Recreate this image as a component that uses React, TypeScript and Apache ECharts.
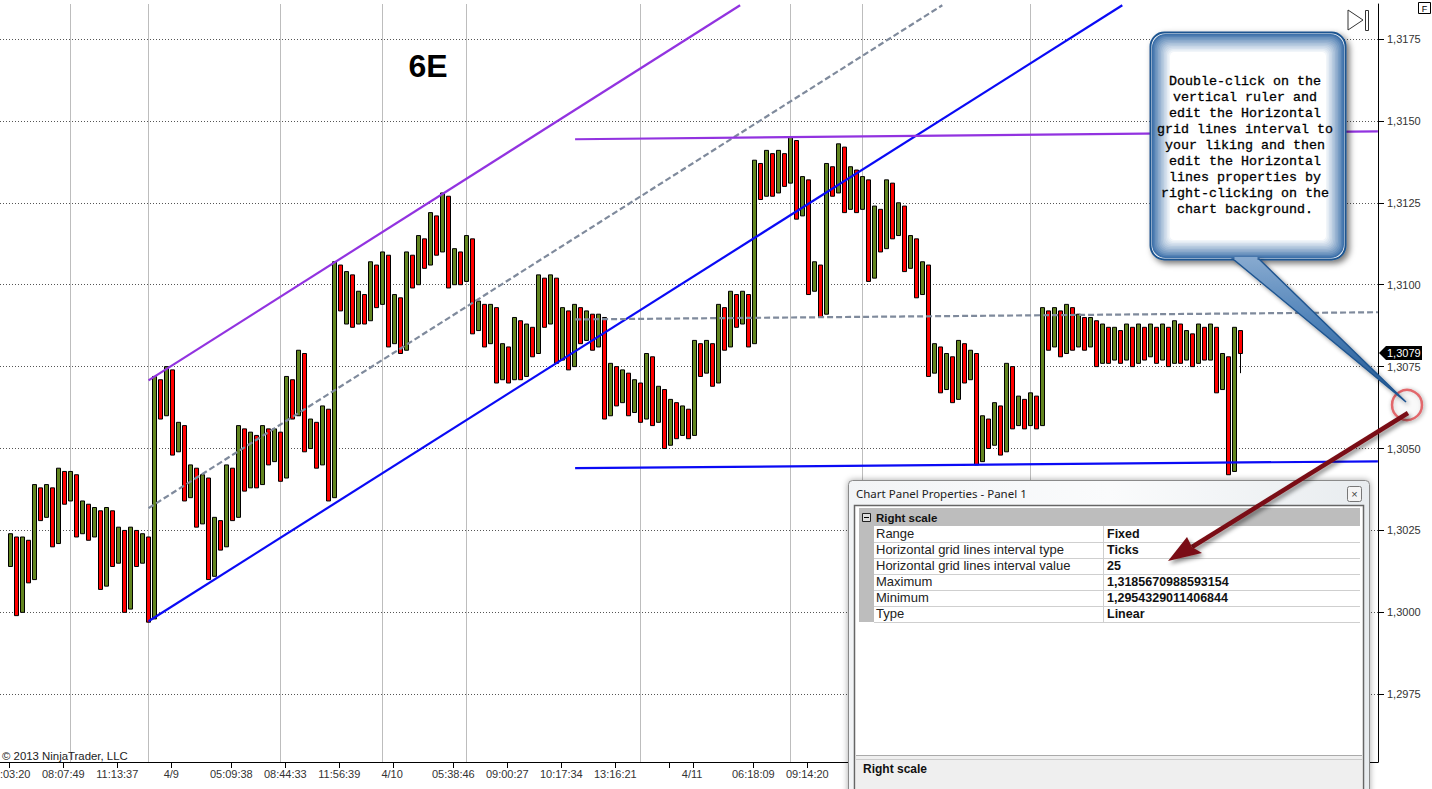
import React, { useEffect, useRef } from "react";
import * as echarts from "echarts";

const barHigh = [
  1.3024,1.3023,1.3023,1.3022,1.3039,1.3038,1.3039,1.3038,1.3044,1.3043,
  1.3043,1.3042,1.3034,1.3033,1.3032,1.3031,1.3032,1.3031,1.3026,1.3025,
  1.3026,1.3025,1.3024,1.3023,1.3072,1.3071,1.3075,1.3074,1.3058,1.3057,
  1.3045,1.3044,1.3042,1.3041,1.3029,1.3028,1.3045,1.3044,1.3057,1.3056,
  1.3055,1.3054,1.3057,1.3056,1.3056,1.3055,1.3072,1.3071,1.3080,1.3079,
  1.3059,1.3058,1.3063,1.3062,1.3107,1.3106,1.3104,1.3103,1.3098,1.3097,
  1.3107,1.3106,1.3110,1.3109,1.3097,1.3096,1.3110,1.3109,1.3115,1.3114,
  1.3122,1.3121,1.3128,1.3127,1.3111,1.3110,1.3115,1.3114,1.3095,1.3094,
  1.3094,1.3093,1.3082,1.3081,1.3090,1.3089,1.3088,1.3087,1.3103,1.3102,
  1.3103,1.3102,1.3093,1.3092,1.3094,1.3093,1.3092,1.3091,1.3091,1.3090,
  1.3076,1.3075,1.3074,1.3073,1.3071,1.3070,1.3079,1.3078,1.3069,1.3068,
  1.3065,1.3064,1.3063,1.3062,1.3083,1.3082,1.3083,1.3082,1.3094,1.3093,
  1.3098,1.3097,1.3098,1.3097,1.3138,1.3137,1.3141,1.3140,1.3141,1.3140,
  1.3145,1.3144,1.3133,1.3132,1.3107,1.3106,1.3137,1.3136,1.3143,1.3142,
  1.3136,1.3135,1.3133,1.3132,1.3124,1.3123,1.3132,1.3131,1.3125,1.3124,
  1.3115,1.3114,1.3107,1.3106,1.3082,1.3081,1.3079,1.3078,1.3083,1.3082,
  1.3080,1.3079,1.3060,1.3059,1.3064,1.3063,1.3076,1.3075,1.3066,1.3065,
  1.3067,1.3066,1.3093,1.3092,1.3093,1.3092,1.3094,1.3093,1.3091,1.3090,
  1.3090,1.3089,1.3088,1.3087,1.3087,1.3086,1.3088,1.3087,1.3088,1.3087,
  1.3088,1.3087,1.3088,1.3087,1.3089,1.3088,1.3086,1.3085,1.3088,1.3087,
  1.3088,1.3087,1.3079,1.3078,1.3087,1.3086,
];
const barLow = [
  1.3014,1.2999,1.3000,1.3009,1.3010,1.3028,1.3029,1.3020,1.3021,1.3033,
  1.3034,1.3023,1.3024,1.3022,1.3023,1.3007,1.3008,1.3014,1.3015,1.3000,
  1.3001,1.3014,1.3015,1.2997,1.2998,1.3059,1.3060,1.3048,1.3049,1.3034,
  1.3035,1.3026,1.3027,1.3010,1.3011,1.3019,1.3020,1.3028,1.3029,1.3037,
  1.3038,1.3038,1.3039,1.3045,1.3046,1.3040,1.3041,1.3059,1.3060,1.3049,
  1.3050,1.3044,1.3045,1.3034,1.3035,1.3092,1.3088,1.3087,1.3088,1.3088,
  1.3089,1.3093,1.3094,1.3081,1.3082,1.3079,1.3080,1.3099,1.3100,1.3105,
  1.3106,1.3109,1.3110,1.3099,1.3100,1.3100,1.3101,1.3085,1.3086,1.3081,
  1.3082,1.3070,1.3071,1.3070,1.3071,1.3071,1.3072,1.3078,1.3079,1.3087,
  1.3088,1.3076,1.3077,1.3074,1.3075,1.3082,1.3083,1.3080,1.3081,1.3059,
  1.3060,1.3063,1.3064,1.3060,1.3061,1.3058,1.3059,1.3057,1.3058,1.3050,
  1.3051,1.3053,1.3054,1.3053,1.3054,1.3072,1.3073,1.3069,1.3070,1.3080,
  1.3081,1.3087,1.3088,1.3081,1.3082,1.3126,1.3127,1.3127,1.3128,1.3130,
  1.3131,1.3120,1.3121,1.3097,1.3098,1.3090,1.3091,1.3127,1.3128,1.3122,
  1.3123,1.3122,1.3123,1.3101,1.3102,1.3110,1.3111,1.3114,1.3115,1.3104,
  1.3105,1.3096,1.3097,1.3072,1.3073,1.3067,1.3068,1.3064,1.3065,1.3070,
  1.3071,1.3045,1.3046,1.3050,1.3051,1.3048,1.3049,1.3056,1.3057,1.3056,
  1.3057,1.3056,1.3057,1.3080,1.3081,1.3078,1.3079,1.3080,1.3081,1.3080,
  1.3081,1.3075,1.3076,1.3076,1.3077,1.3076,1.3077,1.3075,1.3076,1.3077,
  1.3078,1.3076,1.3077,1.3075,1.3076,1.3076,1.3077,1.3075,1.3076,1.3077,
  1.3077,1.3067,1.3068,1.3042,1.3043,1.3079,
];
const lastBarWickLow = 1.3073;

const priceTicks = [1.2975, 1.3, 1.3025, 1.305, 1.3075, 1.31, 1.3125, 1.315, 1.3175];
const priceMin = 1.2954329011406844;
const priceMax = 1.3185670988593154;
const lastPriceLabel = "1,3079";

const timeLabels = [":03:20","08:07:49","11:13:37","4/9","05:09:38","08:44:33","11:56:39","4/10","05:38:46","09:00:27","10:17:34","13:16:21","4/11","06:18:09","09:14:20"];
const timeLabelBars = [0.78, 8.8, 17.8, 26.8, 36.8, 45.8, 54.8, 63.6, 73.8, 82.8, 91.8, 100.8, 113.6, 123.8, 132.8];
const timeTickBars = [-0.2, 8.8, 17.8, 26.8, 36.8, 45.8, 54.8, 63.8, 73.8, 82.8, 91.8, 100.8, 109.8, 113.8, 123.8, 132.8, 141.8, 150.8, 159.8, 168.8, 177.8, 186.8, 195.8, 204.8, 213.8, 222.8];
const sessionLineBars = [10, 23, 45, 62, 76, 105, 130, 142, 170];

const purpleChannel = [[23, 1.30708], [121.6, 1.31853]];
const blueChannel = [[23, 1.29973], [185.3, 1.31853]];
const grayChannel = [[23, 1.30318], [155.3, 1.31853]];
const purpleLevel = [[94.1, 1.31444], [227.9, 1.31468]];
const grayLevel = [[94.1, 1.30894], [227.9, 1.30916]];
const blueLevel = [[94.1, 1.3044], [227.9, 1.30461]];

const calloutLines = ["Double-click on the","vertical ruler and","edit the Horizontal","grid lines interval to","your liking and then","edit the Horizontal","lines properties by","right-clicking on the","chart background."];
const propertyNames = ["Range","Horizontal grid lines interval type","Horizontal grid lines interval value","Maximum","Minimum","Type"];
const propertyValues = ["Fixed","Ticks","25","1,3185670988593154","1,2954329011406844","Linear"];

const SANS = '"Liberation Sans", Arial, sans-serif';
const X_MIN = -1.75;
const X_MAX = 1378 / 6 - 1.75;

function txt(text: string, x: number, y: number, font: string, fill = "#111", textAlign = "left") {
  return { type: "text", z: 60, silent: true, style: { text, x, y, font, fill, textAlign, textVerticalAlign: "middle" } };
}
function box(x: number, y: number, width: number, height: number, style: any, r = 0, z = 50) {
  return { type: "rect", z, silent: true, shape: { x, y, width, height, r }, style };
}

function buildGraphics() {
  const g: any[] = [];
  g.push(txt("6E", 428, 66, `bold 32px ${SANS}`, "#000", "center"));
  g.push(txt("\u00a9 2013 NinjaTrader, LLC", 2, 756, `11.4px ${SANS}`, "#222"));
  g.push({ type: "polygon", z: 50, silent: true, shape: { points: [[1348, 10], [1363, 20], [1348, 30]] }, style: { fill: "#fff", stroke: "#333", lineWidth: 1 } });
  g.push(box(1365.5, 10.5, 3, 20, { fill: "#fff", stroke: "#333", lineWidth: 1 }));
  g.push(box(1418.5, 2.5, 12, 11, { fill: "#fff", stroke: "#000", lineWidth: 1 }));
  g.push(txt("F", 1424.5, 8.5, `9px ${SANS}`, "#000", "center"));
  g.push({ type: "polygon", z: 50, silent: true, shape: { points: [[1379, 353], [1386, 346], [1422, 346], [1422, 360], [1386, 360]] }, style: { fill: "#000" } });
  g.push(txt(lastPriceLabel, 1387, 353, `11px ${SANS}`, "#fff"));

  g.push(box(848.5, 480.5, 521, 330, { fill: new echarts.graphic.LinearGradient(0, 0, 1, 0, [{ offset: 0, color: "#f2f4f6" }, { offset: 0.5, color: "#fafbfc" }, { offset: 1, color: "#e8ecef" }]), stroke: "#8a8a8a", lineWidth: 1, shadowBlur: 6, shadowColor: "rgba(0,0,0,0.35)" }, 4));
  g.push(txt("Chart Panel Properties - Panel 1", 856, 493, `11.5px "Noto Sans", ${SANS}`, "#222"));
  g.push(box(1347.5, 486.5, 14, 15, { fill: "#f4f4f4", stroke: "#777", lineWidth: 1 }, 2));
  g.push(txt("\u00d7", 1354.5, 494, `11px ${SANS}`, "#444", "center"));
  g.push(box(854.5, 505.5, 509, 300, { fill: "#fff", stroke: "#666", lineWidth: 1.5 }));
  g.push(box(859, 508, 501, 18, { fill: "#bdbdbd" }));
  g.push(box(859, 526, 15, 96, { fill: "#bdbdbd" }));
  g.push(box(862.5, 513.5, 8, 8, { fill: "#dcdcdc", stroke: "#222", lineWidth: 1 }));
  g.push({ type: "line", z: 61, silent: true, shape: { x1: 864, y1: 517.5, x2: 869, y2: 517.5 }, style: { stroke: "#000", lineWidth: 1 } });
  g.push(txt("Right scale", 876, 518, `bold 11.5px ${SANS}`, "#111"));
  propertyNames.forEach((name, i) => {
    const y = 534 + i * 16;
    g.push(txt(name, 876, y - 1, `13px ${SANS}`, "#222"));
    g.push(txt(propertyValues[i], 1107, y, `bold 12.5px ${SANS}`, "#111"));
    g.push({ type: "line", z: 52, silent: true, shape: { x1: 874, y1: y + 8.5, x2: 1360, y2: y + 8.5 }, style: { stroke: "#cfcfcf", lineWidth: 1 } });
  });
  g.push({ type: "line", z: 52, silent: true, shape: { x1: 1103.5, y1: 526, x2: 1103.5, y2: 622 }, style: { stroke: "#cfcfcf", lineWidth: 1 } });
  g.push(box(856, 755, 506, 50, { fill: "#efefef" }));
  g.push({ type: "line", z: 52, silent: true, shape: { x1: 856, y1: 755.5, x2: 1362, y2: 755.5 }, style: { stroke: "#aaa", lineWidth: 1 } });
  g.push({ type: "line", z: 52, silent: true, shape: { x1: 856, y1: 759.5, x2: 1362, y2: 759.5 }, style: { stroke: "#ccc", lineWidth: 1 } });
  g.push(txt("Right scale", 863, 769, `bold 12px ${SANS}`, "#111"));

  g.push({ type: "circle", z: 70, silent: true, shape: { cx: 1407, cy: 405, r: 15 }, style: { fill: "rgba(255,255,255,0.15)", stroke: "#e2686c", lineWidth: 2.5, shadowBlur: 4, shadowColor: "rgba(0,0,0,0.4)", shadowOffsetX: 1, shadowOffsetY: 1 } });

  const steps = 13;
  const mix = (t: number) => {
    const a = [62, 113, 170];
    const b = [255, 255, 255];
    const c = a.map((v, i) => Math.round(v + (b[i] - v) * t));
    return `rgb(${c[0]},${c[1]},${c[2]})`;
  };
  g.push(box(1150.5, 32.5, 195, 227, { fill: "#fff", stroke: "#1f5590", lineWidth: 2, shadowBlur: 6, shadowColor: "rgba(0,0,0,0.55)", shadowOffsetX: 3, shadowOffsetY: 3 }, 14, 72));
  for (let k = 0; k < steps; k++) {
    const inset = 1.5 + k * 1.5;
    g.push(box(1150.5 + inset, 32.5 + inset, 195 - 2 * inset, 227 - 2 * inset, { fill: mix(Math.pow(k / (steps - 1), 0.85)) }, Math.max(14 - inset * 0.5, 4), 72));
  }
  g.push({ type: "polygon", z: 73, silent: true, shape: { points: [[1233, 259], [1259, 259], [1406, 402]] }, style: { fill: new echarts.graphic.LinearGradient(0, 0, 0, 1, [{ offset: 0, color: "#86a9cf" }, { offset: 0.45, color: "#4f82b8" }, { offset: 1, color: "#1f5590" }]), stroke: "#1f5590", lineWidth: 1.5, shadowBlur: 4, shadowColor: "rgba(0,0,0,0.45)", shadowOffsetX: 2, shadowOffsetY: 2 } });
  g.push(box(1234.5, 257, 23, 3, { fill: "#86a9cf" }, 0, 74));
  calloutLines.forEach((line, i) => {
    g.push({ type: "text", z: 75, silent: true, style: { text: line, x: 1245, y: 81 + i * 16, font: `13.33px "Liberation Mono", monospace`, fill: "#000", stroke: "#000", lineWidth: 0.3, textAlign: "center", textVerticalAlign: "middle" } });
  });

  g.push({ type: "line", z: 80, silent: true, shape: { x1: 1408, y1: 413, x2: 1192, y2: 547 }, style: { stroke: "#7a1015", lineWidth: 4.5, shadowBlur: 4, shadowColor: "rgba(0,0,0,0.45)", shadowOffsetX: 2, shadowOffsetY: 3 } });
  g.push({ type: "polygon", z: 81, silent: true, shape: { points: [[1168, 561], [1187, 537], [1192, 547], [1202, 553]] }, style: { fill: "#7a1015", shadowBlur: 4, shadowColor: "rgba(0,0,0,0.45)", shadowOffsetX: 2, shadowOffsetY: 3 } });
  return g;
}

function trend(data: number[][], color: string, dashed = false) {
  return {
    type: "line", data, xAxisIndex: 0, yAxisIndex: 0, symbol: "none", silent: true, z: 5, clip: true,
    lineStyle: { color, width: 2.2, type: dashed ? [6, 3] : "solid" },
  };
}

export default function App() {
  const ref = useRef<HTMLDivElement | null>(null);
  useEffect(() => {
    document.body.style.margin = "0";
    const chart = echarts.init(ref.current!, null, { renderer: "svg" });
    const ohlc = barHigh.map((hi, i) => {
      const lo = barLow[i];
      const up = i % 2 === 0;
      const wickLow = i === barHigh.length - 1 ? lastBarWickLow : lo;
      return [i, up ? lo : hi, up ? hi : lo, wickLow, hi];
    });
    const labelOf = new Map(timeLabelBars.map((b, i) => [b.toFixed(2), timeLabels[i]]));
    chart.setOption({
      animation: false,
      backgroundColor: "#fff",
      grid: { left: 0, right: 54, top: 4, height: 758, containLabel: false, outerBoundsMode: "none" },
      xAxis: [
        {
          type: "value", min: X_MIN, max: X_MAX, position: "bottom", containShape: false,
          axisLine: { show: true, onZero: false, lineStyle: { color: "#000", width: 1 } },
          axisTick: { show: true, length: 6, lineStyle: { color: "#000" }, customValues: timeTickBars },
          axisLabel: { show: true, customValues: timeLabelBars, margin: 6, fontSize: 11, fontFamily: SANS, color: "#333", hideOverlap: false,
            formatter: (v: number) => labelOf.get(v.toFixed(2)) ?? "" },
          splitLine: { show: false },
        },
        {
          type: "value", min: X_MIN, max: X_MAX, position: "bottom", containShape: false,
          axisLine: { show: false, onZero: false },
          axisTick: { show: false, customValues: sessionLineBars },
          axisLabel: { show: false },
          splitLine: { show: true, lineStyle: { color: "#bdbdbd", width: 1, type: "solid" } },
        },
      ],
      yAxis: {
        type: "value", position: "right", min: priceMin, max: priceMax, scale: true,
        axisLine: { show: true, onZero: false, lineStyle: { color: "#000", width: 1 } },
        axisTick: { show: true, length: 6, lineStyle: { color: "#000" }, customValues: priceTicks },
        axisLabel: { show: true, customValues: priceTicks, margin: 9, fontSize: 11, fontFamily: SANS, color: "#333", padding: [2, 0, 0, 0],
          formatter: (v: number) => v.toFixed(4).replace(".", ",") },
        splitLine: { show: true, lineStyle: { color: "#555", width: 1, type: [1, 2] } },
      },
      series: [
        {
          type: "candlestick", xAxisIndex: 0, yAxisIndex: 0, data: ohlc, barWidth: 4, z: 3, silent: true, clip: true,
          itemStyle: { color: "#62851f", color0: "#ff0000", borderColor: "#000", borderColor0: "#000", borderWidth: 1 },
        },
        trend(purpleChannel, "#9233e0"),
        trend(blueChannel, "#0a0af5"),
        trend(grayChannel, "#7f8a9c", true),
        trend(purpleLevel, "#9233e0"),
        trend(grayLevel, "#7f8a9c", true),
        trend(blueLevel, "#0a0af5"),
      ],
      graphic: { elements: buildGraphics() },
    });
    return () => chart.dispose();
  }, []);
  return <div ref={ref} style={{ position: "fixed", left: 0, top: 0, width: 1432, height: 789, background: "#fff" }} />;
}
